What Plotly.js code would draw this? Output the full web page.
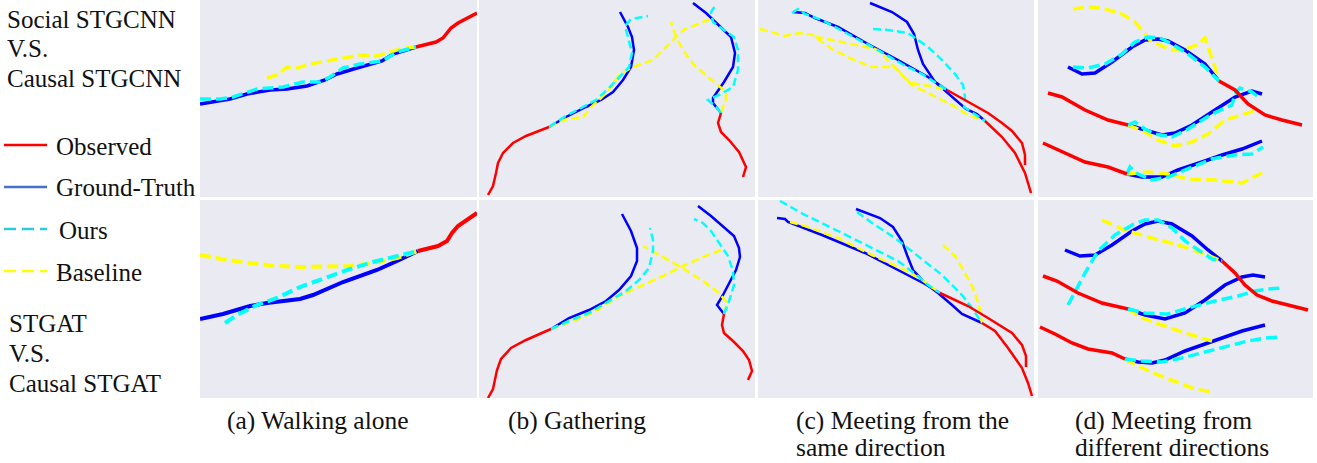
<!DOCTYPE html>
<html>
<head>
<meta charset="utf-8">
<script src="https://cdn.plot.ly/plotly-3.0.1.min.js"></script>
<style>html,body{margin:0;padding:0;background:#fff;}#chart{width:1317px;height:463px;}</style>
</head>
<body>
<div id="chart"></div>
<script>
// ---- Data: trajectory points (panel-local units, y downward); null = gap between agents ----
// (a) Walking alone — top row (Social STGCNN vs Causal STGCNN)
const walkTopObs  = [[216,47],[228,44],[236,42],[243,38],[247,33],[251,28],[258,23],[267,18],[277,13]];
const walkTopGT   = [[0,104],[30,99],[47,94],[70,90],[87,89],[107,86],[125,80],[137,74],[157,68],[182,61],[193,54],[216,47]];
const walkTopOurs = [[0,99],[20,99],[33,97],[57,89],[83,87],[103,82],[120,82],[130,77],[143,68],[160,64],[182,61],[197,52],[216,47]];
const walkTopBase = [[67,78],[77,75],[87,67],[97,68],[110,64],[133,60],[160,55],[177,56],[190,52],[200,49],[216,47]];
// (b) Gathering — top row
const gathTopObs  = [[9,195],[14,186],[17,173],[19,163],[24,153],[34,143],[47,136],[60,131],[70,127],null,[242,113],[239,123],[242,132],[250,140],[260,152],[267,167],[264,177]];
const gathTopGT   = [[70,127],[87,117],[107,107],[122,100],[134,92],[144,80],[152,67],[155,50],[153,37],[149,27],[141,12],null,[242,113],[234,103],[234,98],[245,82],[254,67],[256,53],[252,37],[242,27],[232,17],[227,13],[214,3]];
const gathTopOurs = [[70,127],[85,117],[104,107],[117,100],[130,88],[140,77],[150,67],[153,53],[149,37],[146,26],[152,19],[169,16],null,[242,113],[237,107],[229,100],[240,95],[254,87],[259,70],[259,50],[255,37],[245,30],[234,22],[232,12],[236,6]];
const gathTopBase = [[70,127],[84,120],[104,117],[112,107],[120,100],[130,90],[140,75],[154,67],[174,60],[187,47],[197,37],[204,30],[224,22],[234,18],null,[242,112],[247,100],[247,92],[230,78],[215,65],[204,50],[197,37],[192,22]];
// (c) Meeting from the same direction — top row
const sameTopObs  = [[189,90],[207,100],[230,113],[244,123],[254,131],[264,143],[267,155],[267,165],null,[227,121],[244,137],[257,153],[267,173],[273,193]];
const sameTopGT   = [[35,12],[47,13],[57,18],[80,27],[110,44],[140,60],[170,77],[189,90],null,[112,3],[134,12],[149,22],[156,34],[160,50],[165,64],[177,82],[194,97],[208,109],[219,114],[227,121]];
const sameTopOurs = [[34,13],[40,9],[47,14],[64,20],[90,34],[120,50],[144,64],[164,74],[189,90],null,[115,29],[130,30],[150,33],[160,40],[170,47],[184,60],[197,74],[205,85],[207,97],[206,107],[214,112],[227,121]];
const sameTopBase = [[2,29],[27,36],[42,33],[55,35],[64,42],[74,49],[94,59],[114,67],[134,67],[140,70],[147,78],[154,83],[177,87],[189,90],null,[57,37],[64,38],[84,42],[107,47],[117,49],[124,53],[132,63],[137,67],[144,75],[154,85],[174,95],[194,105],[210,115],[227,121]];
// (d) Meeting from different directions — top row
const diffTopObs  = [[181,81],[197,90],[210,104],[227,115],[244,120],[264,125],null,[10,93],[24,97],[47,110],[70,120],[90,125],null,[5,143],[24,152],[47,162],[70,167],[89,174]];
const diffTopGT   = [[30,67],[44,74],[57,73],[74,62],[94,47],[107,40],[120,39],[130,41],[147,50],[167,64],[181,81],null,[90,125],[107,130],[124,135],[137,133],[154,125],[177,110],[197,97],[214,91],[224,94],null,[89,174],[104,177],[124,177],[140,170],[164,162],[184,155],[204,149],[224,141]];
const diffTopOurs = [[35,67],[50,68],[67,64],[84,54],[97,42],[110,37],[122,38],[134,44],[150,54],[167,67],[181,81],null,[90,125],[97,122],[107,129],[117,134],[134,137],[150,129],[174,114],[194,105],[197,94],[202,88],[214,92],[219,96],null,[89,174],[92,167],[100,174],[114,180],[130,177],[150,169],[174,159],[197,155],[214,154],[225,147]];
const diffTopBase = [[35,9],[50,7],[64,8],[84,14],[97,22],[105,32],[112,40],[122,45],[132,50],[145,50],[159,45],[167,38],[172,52],[177,67],[181,81],null,[90,125],[107,132],[120,140],[137,146],[154,142],[170,134],[187,120],[204,115],[219,110],null,[89,174],[110,172],[130,174],[150,179],[177,180],[204,183],[224,173]];
// (a) Walking alone — bottom row (STGAT vs Causal STGAT)
const walkBotObs  = [[218,51],[238,46],[247,41],[252,33],[258,26],[267,20],[277,13]];
const walkBotGT   = [[0,119],[23,114],[50,106],[67,103],[100,99],[113,95],[143,82],[177,70],[197,61],[218,51]];
const walkBotOurs = [[25,123],[37,115],[57,105],[77,98],[100,87],[127,77],[150,69],[173,62],[197,56],[218,51]];
const walkBotBase = [[0,55],[27,60],[50,63],[77,66],[103,67],[130,67],[150,66],[173,63],[197,58],[218,51]];
// (b) Gathering — bottom row
const gathBotObs  = [[9,198],[14,189],[18,170],[22,159],[32,148],[47,140],[72,129],null,[245,114],[243,125],[245,133],[254,141],[264,151],[270,160],[273,171],[269,180]];
const gathBotGT   = [[72,129],[90,118],[110,110],[127,101],[140,90],[152,76],[158,61],[158,48],[152,31],[143,14],null,[245,114],[238,105],[244,95],[250,84],[257,70],[261,57],[260,48],[255,36],[244,26],[232,16],[219,6]];
const gathBotOurs = [[72,129],[90,121],[110,113],[130,101],[147,91],[160,80],[170,68],[174,51],[174,40],[171,28],null,[245,114],[250,101],[255,85],[254,71],[249,56],[240,43],[232,31],[224,23],[215,19]];
const gathBotBase = [[72,129],[94,121],[117,111],[140,96],[164,85],[184,76],[204,66],[224,57],[242,50],null,[245,114],[248,103],[240,93],[224,81],[200,66],[182,56],[164,46]];
// (c) Meeting from the same direction — bottom row
const sameBotObs  = [[182,93],[210,106],[230,118],[254,133],[264,145],[268,156],[268,167],null,[224,123],[237,131],[250,148],[264,168],[270,183],[274,196]];
const sameBotGT   = [[19,18],[27,19],[30,22],[64,35],[107,53],[140,70],[167,84],[182,93],null,[98,9],[122,18],[135,27],[144,41],[149,55],[155,70],[167,83],[180,93],[194,105],[204,114],[224,123]];
const sameBotOurs = [[22,1],[47,15],[80,31],[114,48],[140,61],[160,76],[170,85],[182,93],null,[99,12],[114,23],[137,38],[160,56],[184,75],[204,95],[214,108],[224,123]];
const sameBotBase = [[32,22],[47,26],[80,38],[114,55],[147,70],[164,80],[182,93],null,[185,45],[197,56],[207,73],[215,88],[221,105],[224,123]];
// (d) Meeting from different directions — bottom row
const diffBotObs  = [[184,61],[197,73],[207,85],[219,95],[234,101],[250,105],[270,110],null,[5,76],[19,81],[40,93],[64,103],[90,109],null,[2,127],[17,134],[34,143],[50,149],[74,153],[87,159]];
const diffBotGT   = [[27,50],[42,56],[57,55],[74,45],[94,31],[107,24],[120,21],[134,24],[154,36],[170,50],[184,61],null,[90,109],[107,115],[127,119],[147,113],[167,100],[187,85],[204,77],[215,75],[227,77],null,[87,159],[100,162],[114,163],[127,160],[147,151],[170,143],[190,136],[204,131],[227,125]];
const diffBotOurs = [[30,105],[39,88],[47,73],[60,51],[77,35],[94,25],[107,20],[120,20],[134,28],[147,41],[164,53],[174,59],[184,61],null,[90,109],[107,113],[130,114],[150,108],[177,101],[200,96],[217,91],[230,89],[245,88],null,[87,159],[104,161],[124,162],[144,158],[167,152],[190,146],[210,141],[227,138],[242,137]];
const diffBotBase = [[64,20],[87,30],[114,38],[140,45],[164,53],[184,61],null,[90,109],[104,118],[124,125],[147,133],[174,141],null,[87,159],[100,166],[120,175],[140,183],[157,189],[175,192]];

// ---- Text ----
const rowLabelTop = ["Social STGCNN", "V.S.", "Causal STGCNN"];
const rowLabelBot = ["STGAT", "V.S.", "Causal STGAT"];
const legendNames = ["Observed", "Ground-Truth", "Ours", "Baseline"];
const captions = [["(a) Walking alone"], ["(b) Gathering"], ["(c) Meeting from the", "same direction"], ["(d) Meeting from", "different directions"]];

// ---- Layout geometry (pixels) ----
const W = 1317, H = 463;
const colPx = [[200, 477], [479, 755], [758, 1034], [1038, 1313]];
const rowPx = [[0, 197], [200, 398]];
const lineW = [[3.5, 2.5, 2.5, 3.5], [4, 2.5, 2.5, 3.5]];

const panelData = [
  [[walkTopObs, walkTopGT, walkTopOurs, walkTopBase], [gathTopObs, gathTopGT, gathTopOurs, gathTopBase],
   [sameTopObs, sameTopGT, sameTopOurs, sameTopBase], [diffTopObs, diffTopGT, diffTopOurs, diffTopBase]],
  [[walkBotObs, walkBotGT, walkBotOurs, walkBotBase], [gathBotObs, gathBotGT, gathBotOurs, gathBotBase],
   [sameBotObs, sameBotGT, sameBotOurs, sameBotBase], [diffBotObs, diffBotGT, diffBotOurs, diffBotBase]]
];

const RED = "#ff0000", BLUE = "#0000ff", CYAN = "#00ffff", YELLOW = "#ffff00";
const FONT = "Times New Roman";

function xs(pts) { return pts.map(p => p === null ? null : p[0]); }
function ys(pts) { return pts.map(p => p === null ? null : p[1]); }

const traces = [];
const layout = {
  width: W, height: H,
  margin: {l: 0, r: 0, t: 0, b: 0},
  paper_bgcolor: "#ffffff",
  plot_bgcolor: "#eaeaf2",
  showlegend: false,
  annotations: [],
  shapes: []
};

let k = 0;
for (let r = 0; r < 2; r++) {
  for (let c = 0; c < 4; c++) {
    k++;
    const xa = k === 1 ? "xaxis" : "xaxis" + k;
    const ya = k === 1 ? "yaxis" : "yaxis" + k;
    const xr = k === 1 ? "x" : "x" + k;
    const yr = k === 1 ? "y" : "y" + k;
    const pw = colPx[c][1] - colPx[c][0];
    const ph = rowPx[r][1] - rowPx[r][0];
    layout[xa] = {domain: [colPx[c][0] / W, colPx[c][1] / W], range: [0, pw], anchor: yr,
      showgrid: false, zeroline: false, showticklabels: false, ticks: "", showline: false, fixedrange: true};
    layout[ya] = {domain: [1 - rowPx[r][1] / H, 1 - rowPx[r][0] / H], range: [ph, 0], anchor: xr,
      showgrid: false, zeroline: false, showticklabels: false, ticks: "", showline: false, fixedrange: true};
    const [obs, gt, ours, base] = panelData[r][c];
    const lw = lineW[r][c];
    const dash = lw >= 3.5 ? "11px,5px" : "8px,4px";
    const common = {xaxis: xr, yaxis: yr, mode: "lines", connectgaps: false, hoverinfo: "skip"};
    traces.push(Object.assign({x: xs(gt), y: ys(gt), line: {color: BLUE, width: lw}}, common));
    traces.push(Object.assign({x: xs(base), y: ys(base), line: {color: YELLOW, width: lw, dash: dash}}, common));
    traces.push(Object.assign({x: xs(ours), y: ys(ours), line: {color: CYAN, width: lw, dash: dash}}, common));
    traces.push(Object.assign({x: xs(obs), y: ys(obs), line: {color: RED, width: lw}}, common));
  }
}

function px(x) { return x / W; }
function py(y) { return 1 - y / H; }
function addText(text, x, y, size) {
  layout.annotations.push({text: text, xref: "paper", yref: "paper", x: px(x), y: py(y),
    xanchor: "left", yanchor: "middle", showarrow: false, borderpad: 0,
    font: {family: FONT, size: size, color: "#111111"}});
}

// Row labels
rowLabelTop.forEach((t, i) => addText(t, 6, 19 + i * 29.5, 25));
rowLabelBot.forEach((t, i) => addText(t, 8, 323 + i * 30, 25));

// Legend
const legColors = [RED, "#4472c4", "#2ecbd8", YELLOW];
const legDash = ["solid", "solid", "12px,6px", "12px,6px"];
const legY = [145, 187, 229, 271];
const legTextX = [55, 55, 58, 55];
legendNames.forEach((n, i) => {
  layout.shapes.push({type: "line", xref: "paper", yref: "paper", x0: px(4), x1: px(47), y0: py(legY[i]), y1: py(legY[i]),
    line: {color: legColors[i], width: 2.5, dash: legDash[i]}});
  addText(n, legTextX[i], legY[i] + 1, 25);
});

// Captions
const capX = [226, 507, 795, 1074];
captions.forEach((lines, i) => lines.forEach((t, j) => addText(t, capX[i], 420 + j * 27, 25.5)));

Plotly.newPlot("chart", traces, layout, {staticPlot: true, displayModeBar: false});
</script>
</body>
</html>
